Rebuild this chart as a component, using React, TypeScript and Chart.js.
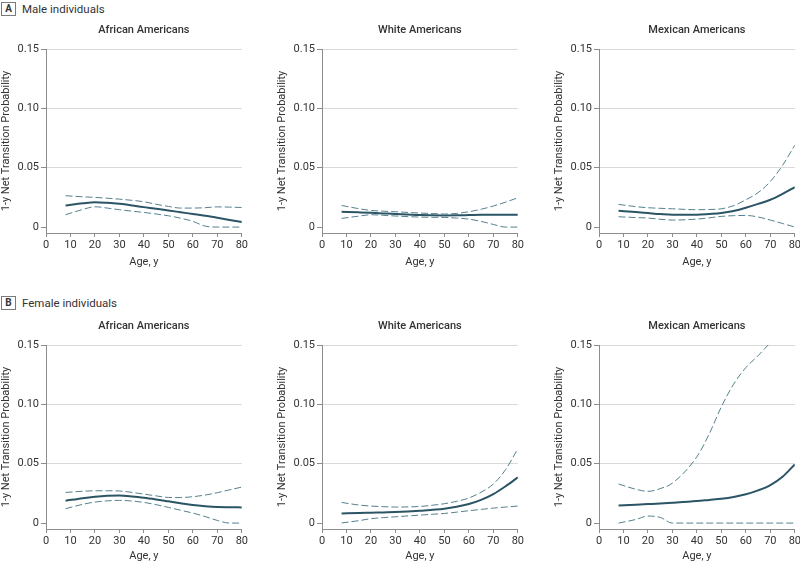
import React, { useEffect, useRef } from "react";
import { Chart, registerables } from "chart.js";

Chart.register(...registerables);

// ---------- data ----------
const AGES = [8, 15, 20, 25, 30, 40, 45, 50, 55, 60, 65, 70, 75, 80];
const X_TICK_STEP = 10;
const Y_TICKS = [0, 0.05, 0.1, 0.15];
const Y_TITLE = "1-y Net Transition Probability";
const X_TITLE = "Age, y";
const GROUPS = ["African Americans", "White Americans", "Mexican Americans"];
const SECTIONS = [
  { letter: "A", label: "Male individuals" },
  { letter: "B", label: "Female individuals" },
];

// Male, African Americans
const maleAAMid = [0.0182, 0.02, 0.021, 0.0205, 0.0196, 0.0168, 0.0154, 0.014, 0.0125, 0.011, 0.0095, 0.0078, 0.006, 0.0042];
const maleAAUpper = [0.0264, 0.0255, 0.025, 0.0243, 0.0235, 0.0213, 0.0192, 0.0174, 0.016, 0.016, 0.0163, 0.017, 0.0168, 0.0165];
const maleAALower = [0.0104, 0.0148, 0.0171, 0.016, 0.0146, 0.0123, 0.011, 0.0095, 0.0075, 0.0048, 0.0008, 0, 0, 0];
// Male, White Americans
const maleWAMid = [0.0129, 0.0124, 0.012, 0.0115, 0.011, 0.0101, 0.0099, 0.0098, 0.0099, 0.0101, 0.0103, 0.0104, 0.0104, 0.0104];
const maleWAUpper = [0.0182, 0.0155, 0.014, 0.0134, 0.0129, 0.0118, 0.0114, 0.011, 0.0115, 0.0129, 0.015, 0.0177, 0.021, 0.0247];
const maleWALower = [0.0073, 0.0092, 0.0104, 0.0099, 0.0093, 0.0084, 0.0082, 0.0081, 0.0076, 0.0067, 0.0048, 0.0022, 0, 0];
// Male, Mexican Americans
const maleMAMid = [0.0137, 0.0126, 0.0118, 0.011, 0.0104, 0.0104, 0.011, 0.0118, 0.0135, 0.0163, 0.0195, 0.023, 0.028, 0.0336];
const maleMAUpper = [0.0191, 0.0172, 0.0163, 0.0158, 0.0154, 0.0146, 0.0148, 0.0154, 0.018, 0.023, 0.029, 0.0384, 0.052, 0.069];
const maleMALower = [0.0087, 0.008, 0.0076, 0.0066, 0.0059, 0.0067, 0.0078, 0.009, 0.0096, 0.0098, 0.0085, 0.0059, 0.003, 0];
// Female, African Americans
const femaleAAMid = [0.0188, 0.021, 0.0222, 0.023, 0.0233, 0.0213, 0.0199, 0.0183, 0.0167, 0.0152, 0.0142, 0.0135, 0.0133, 0.0132];
const femaleAAUpper = [0.0258, 0.0268, 0.0272, 0.0272, 0.027, 0.0244, 0.0229, 0.0216, 0.0215, 0.0222, 0.0236, 0.0256, 0.028, 0.0303];
const femaleAALower = [0.0121, 0.0158, 0.0177, 0.0187, 0.0191, 0.0174, 0.0155, 0.0132, 0.0108, 0.0084, 0.0055, 0.0022, 0, 0];
// Female, White Americans
const femaleWAMid = [0.0081, 0.0084, 0.0087, 0.009, 0.0093, 0.0104, 0.0112, 0.0121, 0.0137, 0.016, 0.0195, 0.0244, 0.031, 0.0385];
const femaleWAUpper = [0.0174, 0.0152, 0.0143, 0.0138, 0.0135, 0.014, 0.015, 0.0163, 0.0183, 0.0211, 0.026, 0.0329, 0.045, 0.0626];
const femaleWALower = [0.0001, 0.002, 0.0037, 0.0046, 0.0053, 0.0067, 0.0074, 0.0081, 0.0092, 0.0104, 0.0115, 0.0126, 0.0135, 0.0143];
// Female, Mexican Americans
const femaleMAMid = [0.0149, 0.0155, 0.016, 0.0165, 0.0171, 0.0185, 0.0195, 0.0205, 0.022, 0.0242, 0.0275, 0.032, 0.039, 0.0494];
const femaleMAUpper = [0.0329, 0.0285, 0.0267, 0.029, 0.0337, 0.0559, 0.075, 0.098, 0.117, 0.131, 0.141, 0.152, 0.163, 0.174];
const femaleMALower = [0, 0.003, 0.0059, 0.0048, 0, 0, 0, 0, 0, 0, 0, 0, 0, 0];

const PANELS = [
  { row: 0, col: 0, mid: maleAAMid, upper: maleAAUpper, lower: maleAALower },
  { row: 0, col: 1, mid: maleWAMid, upper: maleWAUpper, lower: maleWALower },
  { row: 0, col: 2, mid: maleMAMid, upper: maleMAUpper, lower: maleMALower },
  { row: 1, col: 0, mid: femaleAAMid, upper: femaleAAUpper, lower: femaleAALower },
  { row: 1, col: 1, mid: femaleWAMid, upper: femaleWAUpper, lower: femaleWALower },
  { row: 1, col: 2, mid: femaleMAMid, upper: femaleMAUpper, lower: femaleMALower },
];

// ---------- layout / style ----------
const FONT = "Roboto, 'Liberation Sans', sans-serif";
const PLOT_LEFTS = [45.7, 322.3, 599];
const PLOT_TOPS = [49, 344.5];
const X_SCALE_H = [42, 40];
const PLOT_W = 196;
const PLOT_H = 184;
const Y_SCALE_W = 46;
const TOP_SPACE = 29;
const RIGHT_PAD = 8;
const SOLID = "#2b5465";
const DASHED = "#55808e";
const GRID = "#d9d9d9";
const AXIS = "#8c8c8c";
const TEXT = "#333333";

function Panel({ panel }: { panel: any }) {
  const ref = useRef<HTMLCanvasElement | null>(null);
  const width = Y_SCALE_W + PLOT_W + RIGHT_PAD;
  const xh = X_SCALE_H[panel.row];
  const height = TOP_SPACE + PLOT_H + xh;
  const left = PLOT_LEFTS[panel.col] - Y_SCALE_W;
  const top = PLOT_TOPS[panel.row] - TOP_SPACE;

  useEffect(() => {
    const toPts = (arr: number[]) => AGES.map((x, i) => ({ x, y: arr[i] }));
    const dashed = (arr: number[]) => ({
      data: toPts(arr),
      borderColor: DASHED,
      borderWidth: 1,
      borderDash: [7, 3],
      pointRadius: 0,
      fill: false,
      cubicInterpolationMode: "monotone" as const,
    });
    const chart = new Chart(ref.current as HTMLCanvasElement, {
      type: "line",
      data: {
        datasets: [
          dashed(panel.upper),
          dashed(panel.lower),
          {
            data: toPts(panel.mid),
            borderColor: SOLID,
            borderWidth: 2,
            pointRadius: 0,
            fill: false,
            cubicInterpolationMode: "monotone" as const,
          },
        ],
      },
      options: {
        animation: false,
        responsive: false,
        maintainAspectRatio: false,
        devicePixelRatio: 1,
        layout: { padding: { left: 0, right: RIGHT_PAD, top: 0, bottom: 0 } },
        plugins: {
          legend: { display: false },
          tooltip: { enabled: false },
          title: {
            display: true,
            text: GROUPS[panel.col],
            fullSize: false,
            color: TEXT,
            font: { family: FONT, size: 11, weight: 500, lineHeight: 1.2 },
            padding: { top: 3.4, bottom: 12.4 },
          },
        },
        scales: {
          x: {
            type: "linear",
            min: 0,
            max: 80,
            ticks: { stepSize: X_TICK_STEP, color: TEXT, font: { family: FONT, size: 11 }, padding: 2, maxRotation: 0 },
            grid: { drawOnChartArea: false, drawTicks: true, tickLength: 4, tickColor: AXIS },
            border: { color: AXIS },
            title: {
              display: true,
              text: X_TITLE,
              color: TEXT,
              font: { family: FONT, size: 11, lineHeight: 1.2 },
              padding: { top: 0, bottom: 6.4 },
            },
            afterFit: (s: any) => {
              s.height = xh;
            },
          },
          y: {
            type: "linear",
            min: -0.005,
            max: 0.15,
            afterBuildTicks: (s: any) => {
              s.ticks = Y_TICKS.map((v) => ({ value: v }));
            },
            ticks: {
              color: TEXT,
              font: { family: FONT, size: 11 },
              padding: 2,
              callback: (v: any) => (Number(v) === 0 ? "0" : Number(v).toFixed(2)),
            },
            grid: {
              color: (ctx: any) => (ctx.tick && ctx.tick.value === 0 ? "rgba(0,0,0,0)" : GRID),
              tickColor: AXIS,
              tickLength: 5,
              drawTicks: true,
            },
            border: { color: AXIS },
            title: {
              display: true,
              text: Y_TITLE,
              color: TEXT,
              font: { family: FONT, size: 11, lineHeight: 1.2 },
              padding: { top: 0, bottom: 0 },
            },
            afterFit: (s: any) => {
              s.width = Y_SCALE_W;
            },
          },
        },
      } as any,
    });
    return () => chart.destroy();
  }, []);

  return (
    <canvas
      ref={ref}
      width={width}
      height={height}
      style={{ position: "absolute", left, top, width, height }}
    />
  );
}

function SectionLabel({ letter, label, top }: { letter: string; label: string; top: number }) {
  return (
    <div style={{ position: "absolute", left: 1, top, height: 14, display: "flex", alignItems: "center", fontFamily: FONT, color: TEXT }}>
      <div
        style={{
          width: 13,
          height: 12,
          border: "1px solid #7a7a7a",
          fontSize: 10,
          fontWeight: "bold",
          lineHeight: "12px",
          textAlign: "center",
        }}
      >
        {letter}
      </div>
      <div style={{ marginLeft: 6, fontSize: 11.5, lineHeight: "14px" }}>{label}</div>
    </div>
  );
}

export default function App() {
  return (
    <div style={{ position: "absolute", left: 0, top: 0, width: 800, height: 563, overflow: "hidden", background: "#fff" }}>
      <SectionLabel letter={SECTIONS[0].letter} label={SECTIONS[0].label} top={2} />
      <SectionLabel letter={SECTIONS[1].letter} label={SECTIONS[1].label} top={296} />
      {PANELS.map((p, i) => (
        <Panel key={i} panel={p} />
      ))}
    </div>
  );
}
